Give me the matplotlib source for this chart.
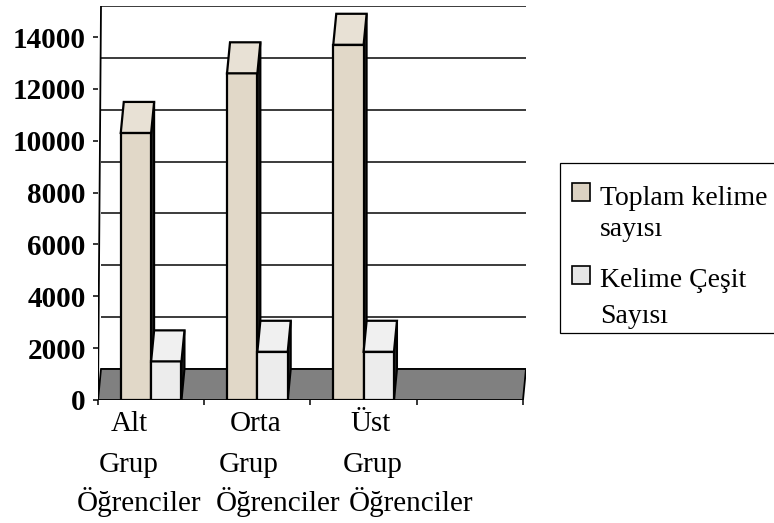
import matplotlib
matplotlib.use("Agg")
import matplotlib.pyplot as plt
from matplotlib.patches import Polygon, Rectangle
import numpy as np

# ---------------- data ----------------
categories = ["Alt\nGrup\nÖğrenciler", "Orta\nGrup\nÖğrenciler", "Üst\nGrup\nÖğrenciler"]
series_names = ["Toplam kelime\nsayısı", "Kelime Çeşit\nSayısı"]
toplam = [10300, 12600, 13700]
cesit = [1490, 1860, 1860]
yticks = [0, 2000, 4000, 6000, 8000, 10000, 12000, 14000]
n_slots = 4  # category slots on the axis (last one empty)

# ---------------- style ----------------
W, H, DPI = 774, 523, 100
FONT = "Liberation Serif"
front_cols = ["#E1D8C8", "#ECECEC"]
top_cols = ["#E8E1D5", "#F0F0F0"]
side_col = "#2a2a2a"
floor_col = "#808080"

# pixel geometry of the front plane
X0_PX, X1_PX = 98, 523
Y0_PX, YTOP_PX = 400, 37
DX_PX, DY_PX = 3, 31
ymax = yticks[-1]
px_per_x = (X1_PX - X0_PX) / n_slots
px_per_y = (Y0_PX - YTOP_PX) / ymax
DXD = DX_PX / px_per_x
DYD = DY_PX / px_per_y

fig = plt.figure(figsize=(W / DPI, H / DPI), dpi=DPI)
fig.patch.set_facecolor("white")
ax = fig.add_axes([X0_PX / W, (H - Y0_PX) / H,
                   (X1_PX - X0_PX + DX_PX) / W, (Y0_PX - YTOP_PX + DY_PX) / H])
ax.set_xlim(-0.5, n_slots - 0.5 + DXD)
ax.set_ylim(0, ymax + DYD)
for s in ax.spines.values():
    s.set_visible(False)
ax.patch.set_alpha(0)

xl, xr = -0.5, n_slots - 0.5

# back wall gridlines
for v in yticks:
    ax.plot([xl + DXD, xr + DXD], [v + DYD, v + DYD], color="#1a1a1a", lw=1.2,
            zorder=1, solid_capstyle="butt")
# side wall edge
ax.plot([xl, xl + DXD], [0, ymax + DYD], color="black", lw=1.3, zorder=1.5)

# floor
ax.add_patch(Polygon([(xl, 0), (xr, 0), (xr + DXD, DYD), (xl + DXD, DYD)],
                     closed=True, fc=floor_col, ec="black", lw=1.3, zorder=2))

# bars
x = np.arange(len(categories))
w = 1 / 3.5
series = [toplam, cesit]
offsets = [-w / 2, w / 2]
for gi in range(len(categories)):
    for si, vals in enumerate(series):
        z = 3 + gi * 0.5 + si * 0.2
        v = vals[gi]
        xc = x[gi] + offsets[si]
        x0b, x1b = xc - w / 2, xc + w / 2
        ax.add_patch(Polygon([(x1b, 0), (x1b, v), (x1b + DXD, v + DYD), (x1b + DXD, DYD)],
                             closed=True, fc=side_col, ec="black", lw=1.5, zorder=z))
        ax.bar([xc], [v], width=w, color=front_cols[si], edgecolor="black",
               linewidth=1.6, zorder=z + 0.05)
        ax.add_patch(Polygon([(x0b, v), (x1b, v), (x1b + DXD, v + DYD), (x0b + DXD, v + DYD)],
                             closed=True, fc=top_cols[si], ec="black", lw=1.6, zorder=z + 0.1))

# y ticks
ax.set_yticks(yticks)
ax.set_yticklabels([str(t) for t in yticks], fontfamily=FONT, fontweight="bold", fontsize=21)
ax.tick_params(axis="y", direction="out", length=3.8, width=1.1, pad=5, color="black")
# x ticks at slot boundaries
ax.set_xticks(np.arange(n_slots + 1) - 0.5)
ax.set_xticklabels([])
ax.tick_params(axis="x", direction="out", length=3.8, width=1.1, color="black")

# category labels (per line)
line_shift = [[-0.21, -0.21, -0.11], [-0.02, -0.08, 0.19], [0.07, 0.09, 0.45]]
baselines_pt = [22.5, 52.0, 80.0]
for gi, lab in enumerate(categories):
    for li, line in enumerate(lab.split("\n")):
        ax.annotate(line, xy=(x[gi] + line_shift[gi][li], 0), xycoords="data",
                    xytext=(0, -baselines_pt[li]), textcoords="offset points",
                    ha="center", va="baseline", fontfamily=FONT, fontsize=21,
                    annotation_clip=False)

# legend (manual)
def fx(px):
    return px / W

def fy(py):
    return (H - py) / H

fig.add_artist(Rectangle((fx(560), fy(333)), fx(800) - fx(560), fy(163) - fy(333),
                         transform=fig.transFigure, fc="white", ec="black", lw=0.9))
leg_sq_top = [183, 266]
leg_base = [[205, 236], [287, 323]]
leg_cols = ["#DCD2C2", "#E6E6E6"]
for si, name in enumerate(series_names):
    fig.add_artist(Rectangle((fx(572), fy(leg_sq_top[si] + 18)), fx(590) - fx(572),
                             fy(leg_sq_top[si]) - fy(leg_sq_top[si] + 18),
                             transform=fig.transFigure, fc=leg_cols[si], ec="black", lw=1.2))
    for li, line in enumerate(name.split("\n")):
        fig.text(fx(600), fy(leg_base[si][li]), line, ha="left", va="baseline",
                 fontfamily=FONT, fontsize=20)

fig.savefig("out.png", dpi=DPI)
